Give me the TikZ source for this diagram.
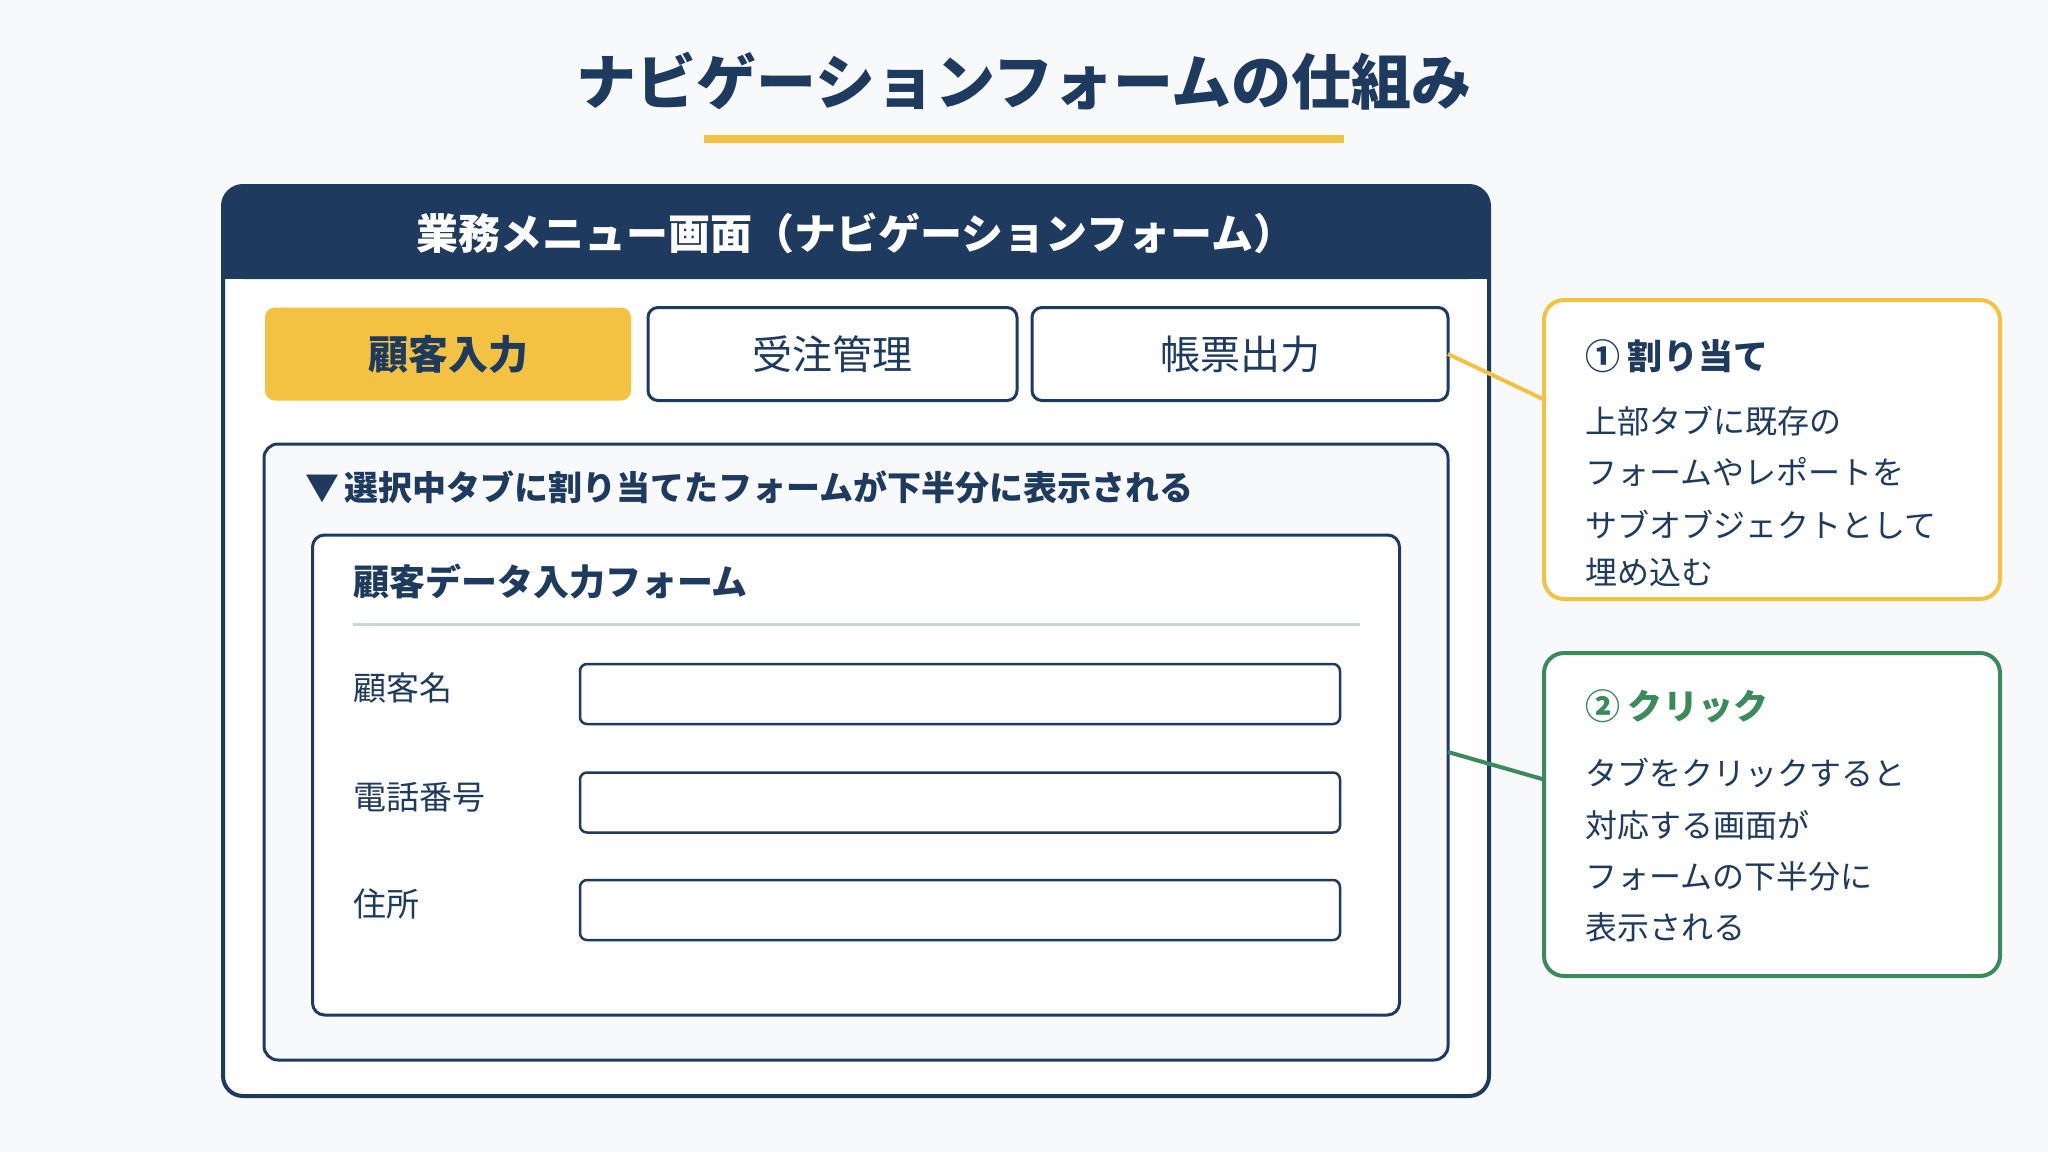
\documentclass[tikz,border=0pt]{standalone}
\usepackage{fontspec}
\setmainfont{Noto Sans CJK JP}
\definecolor{navy}{HTML}{1F3A5F}
\definecolor{gold}{HTML}{F4C242}
\definecolor{grn}{HTML}{3A8A5C}
\definecolor{bgc}{HTML}{F7F9FB}
\definecolor{sepc}{HTML}{CBD5E1}
\newcommand\fsz[1]{\fontsize{#1}{#1}\selectfont}
\tikzset{
  every node/.style={inner sep=0pt, outer sep=0pt, text=navy},
  tabbox/.style={draw=navy, line width=3pt, fill=white, rounded corners=10pt, minimum height=93pt, font=\fsz{40}},
  tabsel/.style={fill=gold, rounded corners=10pt, minimum height=93pt, font=\fsz{40}\bfseries},
  inbox/.style={draw=navy, line width=2.5pt, fill=white, rounded corners=7pt, minimum width=760pt, minimum height=60pt},
  lbl/.style={anchor=west, font=\fsz{33}},
  calltitle/.style={anchor=west, font=\fsz{35}\bfseries},
  callbody/.style={anchor=west, font=\fsz{32}},
  callbox/.style={line width=4pt, fill=white, rounded corners=20pt, minimum width=456pt}
}
\begin{document}
\begin{tikzpicture}[x=1pt,y=-1pt]
\useasboundingbox[fill=bgc] (0,0) rectangle (2048,1152);
% title
\node[font=\fsz{60}\bfseries] (title) at (1024,81) {ナビゲーションフォームの仕組み};
\fill[gold] (704,135) rectangle (1344,143);
% outer window
\node[draw=navy, line width=4pt, fill=white, rounded corners=20pt, minimum width=1266pt, minimum height=910pt] (outer) at (856,641) {};
\fill[navy, rounded corners=20pt] (223,186) rectangle (1489,279);
\fill[navy] (223,250) rectangle (1489,279);
\node[text=white, font=\fsz{42}\bfseries] (head) at (856,233) {業務メニュー画面（ナビゲーションフォーム）};
% tabs
\node[tabsel, minimum width=366pt] (t1) at (448,354) {顧客入力};
\node[tabbox, minimum width=369pt] (t2) at (832.5,354) {受注管理};
\node[tabbox, minimum width=416pt] (t3) at (1240,354) {帳票出力};
% panel
\node[draw=navy, line width=3pt, fill=bgc, rounded corners=14pt, minimum width=1184pt, minimum height=616pt] (panel) at (856,752) {};
\node[anchor=west, font=\fsz{34}\bfseries] (cap) at (305,487) {▼\hspace{5pt}選択中タブに割り当てたフォームが下半分に表示される};
% form
\node[draw=navy, line width=3pt, fill=white, rounded corners=12pt, minimum width=1087pt, minimum height=480pt] (form) at (856,775) {};
\node[anchor=west, font=\fsz{36}\bfseries] (ftitle) at (353,582) {顧客データ入力フォーム};
\draw[sepc, line width=3pt] (353,624) -- (1360,624);
\node[lbl] (l1) at (353,688) {顧客名};
\node[lbl] (l2) at (353,797) {電話番号};
\node[lbl] (l3) at (353,904) {住所};
\node[inbox] (i1) at (960,694) {};
\node[inbox] (i2) at (960,802.5) {};
\node[inbox] (i3) at (960,910) {};
% callouts
\node[callbox, draw=gold, minimum height=299pt] (c1) at (1772,449.5) {};
\node[calltitle] (c1t) at (1585,356) {① 割り当て};
\node[callbody] (c1a) at (1585,421) {上部タブに既存の};
\node[callbody] (c1b) at (1585,472) {フォームやレポートを};
\node[callbody] (c1c) at (1585,525) {サブオブジェクトとして};
\node[callbody] (c1d) at (1585,572) {埋め込む};
\node[callbox, draw=grn, minimum height=323pt] (c2) at (1772,814.5) {};
\node[calltitle, text=grn] (c2t) at (1585,706) {② クリック};
\node[callbody] (c2a) at (1585,773) {タブをクリックすると};
\node[callbody] (c2b) at (1585,825) {対応する画面が};
\node[callbody] (c2c) at (1585,876) {フォームの下半分に};
\node[callbody] (c2d) at (1585,927) {表示される};
% connectors
\draw[gold, line width=4pt] (t3.east) -- ([yshift=50pt]c1.west);
\draw[grn, line width=4pt] (panel.east) -- ([yshift=35pt]c2.west);
\end{tikzpicture}
\end{document}
